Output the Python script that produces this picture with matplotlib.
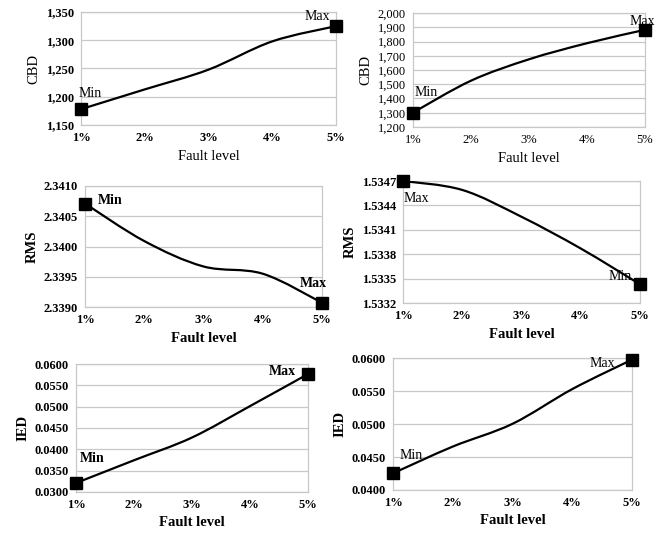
"""Six small fault-level panels (CBD / RMS / IED), Excel-style smoothed lines."""
import matplotlib
matplotlib.use("Agg")
import matplotlib.pyplot as plt
import numpy as np
from matplotlib.path import Path
from matplotlib.patches import PathPatch
from matplotlib.ticker import FuncFormatter

plt.rcParams["font.family"] = ["Liberation Serif", "DejaVu Serif"]

fault_levels = ["1%", "2%", "3%", "4%", "5%"]

cbd_a = [1178, 1213, 1248, 1298, 1325]
cbd_b = [1301, 1525, 1675, 1788, 1882]
rms_a = [2.34071, 2.34009, 2.33967, 2.33955, 2.33907]
rms_b = [1.53470, 1.53459, 1.53426, 1.53387, 1.53343]
ied_a = [0.03211, 0.03744, 0.04277, 0.05013, 0.05765]
ied_b = [0.04253, 0.04658, 0.05003, 0.05529, 0.05975]

GRID = "#c8c8c8"


def smooth_path(x, y):
    # Catmull-Rom -> cubic Bezier, like Excel's "smoothed line"
    pts = np.column_stack([x, y]).astype(float)
    ext = np.vstack([pts[0], pts, pts[-1]])
    verts = [pts[0]]
    codes = [Path.MOVETO]
    for i in range(1, len(ext) - 2):
        p0, p1, p2, p3 = ext[i - 1], ext[i], ext[i + 1], ext[i + 2]
        verts += [p1 + (p2 - p0) / 6, p2 - (p3 - p1) / 6, p2]
        codes += [Path.CURVE4] * 3
    return Path(verts, codes)


def panel(rect, values, ylim, step, fmt, ylabel, tick_bold, label_bold,
          note_bold, notes):
    W, H = 663, 533
    l, r, t, b = rect
    ax = fig.add_axes([l / W, (H - b) / H, (r - l) / W, (b - t) / H])
    x = np.arange(len(values))
    ax.add_patch(PathPatch(smooth_path(x, values), fill=False,
                           edgecolor="black", lw=1.6, zorder=3))
    ax.plot([x[0], x[-1]], [values[0], values[-1]], "s", color="black",
            ms=8.5, clip_on=False, zorder=4)
    ax.set_xlim(0, len(values) - 1)
    ax.set_ylim(*ylim)
    ax.set_yticks(np.arange(ylim[0], ylim[1] + step / 2, step))
    ax.yaxis.set_major_formatter(FuncFormatter(fmt))
    ax.set_xticks(x)
    ax.set_xticklabels(fault_levels)
    tw = "bold" if tick_bold else "normal"
    lw_ = "bold" if label_bold else "normal"
    for lab in ax.get_xticklabels() + ax.get_yticklabels():
        lab.set_fontsize(9)
        lab.set_fontweight(tw)
    ax.tick_params(length=0, pad=5)
    ax.grid(axis="y", color=GRID, lw=0.9)
    for s in ax.spines.values():
        s.set_color(GRID)
        s.set_linewidth(0.9)
    ax.set_xlabel("Fault level", fontsize=10.5, fontweight=lw_, labelpad=4)
    ax.set_ylabel(ylabel, fontsize=10.5, fontweight=lw_, labelpad=4)
    nw = "bold" if note_bold else "normal"
    for idx, txt, off, ha, va in notes:
        ax.annotate(txt, (x[idx], values[idx]), xytext=off,
                    textcoords="offset pixels", ha=ha, va=va,
                    fontsize=10, fontweight=nw, annotation_clip=False,
                    zorder=5)
    return ax


fig = plt.figure(figsize=(6.63, 5.33), dpi=100)

thousands = lambda v, _: f"{v:,.0f}"
four = lambda v, _: f"{v:.4f}"

panel((81, 336, 12, 125), cbd_a, (1150, 1350), 50, thousands, "CBD",
      True, False, False,
      [(0, "Min", (-2, 9), "left", "bottom"),
       (4, "Max", (-6, 3), "right", "bottom")])
panel((413, 645, 13, 127), cbd_b, (1200, 2000), 100, thousands, "CBD",
      False, False, False,
      [(0, "Min", (2, 14), "left", "bottom"),
       (4, "Max", (10, 2), "right", "bottom")])
panel((85, 322, 186, 307), rms_a, (2.3390, 2.3410), 0.0005, four, "RMS",
      True, True, True,
      [(0, "Min", (13, 3), "left", "center"),
       (4, "Max", (5, 13), "right", "bottom")])
panel((403, 640, 181, 303), rms_b, (1.5332, 1.5347), 0.0003, four, "RMS",
      True, True, False,
      [(0, "Max", (1, -11), "left", "top"),
       (4, "Min", (-8, 1), "right", "bottom")])
panel((76, 308, 364, 492), ied_a, (0.0300, 0.0600), 0.0050, four, "IED",
      True, True, True,
      [(0, "Min", (4, 18), "left", "bottom"),
       (4, "Max", (-12, 3), "right", "center")])
panel((393, 632, 358, 490), ied_b, (0.0400, 0.0600), 0.0050, four, "IED",
      True, True, False,
      [(0, "Min", (7, 11), "left", "bottom"),
       (4, "Max", (-17, -4), "right", "center")])

fig.savefig("out.png", dpi=100)
